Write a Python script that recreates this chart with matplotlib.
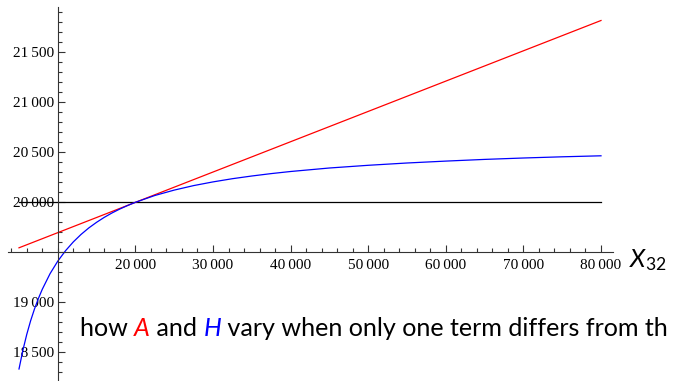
import matplotlib
matplotlib.use("Agg")
import matplotlib.pyplot as plt

# values
x_line = [5000, 80000]
a_vals = [19545, 21818]          # red, A
ref_level = 20000                # black horizontal line

x_h = [5000, 5500, 6000, 6500, 7000, 7500, 8000, 9000, 10000, 11000, 12000,
       13000, 14000, 15000, 16000, 17000, 18000, 19000, 20000, 22500, 25000,
       27500, 30000, 32500, 35000, 37500, 40000, 45000, 50000, 55000, 60000,
       65000, 70000, 75000, 80000]
h_vals = [18333, 18520, 18679, 18816, 18934, 19038, 19130, 19286, 19412, 19516,
          19604, 19679, 19744, 19800, 19850, 19894, 19933, 19968, 20000, 20068,
          20122, 20167, 20204, 20236, 20263, 20287, 20308, 20343, 20370, 20393,
          20412, 20429, 20443, 20455, 20465]   # blue, H

x_ticks = [20000, 30000, 40000, 50000, 60000, 70000, 80000]
y_ticks = [18500, 19000, 20000, 20500, 21000, 21500]


def fmt(v):
    s = str(v)
    return s[:-3] + "\u2009" + s[-3:]


fig = plt.figure(figsize=(6.82, 3.81), dpi=100)
ax = fig.add_axes([0, 0, 1, 1])
ax.set_xlim(2552, 90438)
ax.set_ylim(18213, 22023)

ax.plot(x_line, [ref_level, ref_level], color="black", lw=0.9)
ax.plot(x_line, a_vals, color=(1, 0, 0), lw=0.9)
ax.plot(x_h, h_vals, color=(0, 0, 1), lw=0.9)

for s in ["top", "right"]:
    ax.spines[s].set_visible(False)
ax.spines["left"].set_position(("data", 10000))
ax.spines["bottom"].set_position(("data", 19500))
ax.spines["left"].set_bounds(18213, 21953)
ax.spines["bottom"].set_bounds(3583, 81546)
for s in ["left", "bottom"]:
    ax.spines[s].set_linewidth(0.8)
    ax.spines[s].set_color("#333333")

ax.set_xticks(x_ticks)
ax.set_xticklabels([fmt(v) for v in x_ticks])
ax.set_xticks(list(range(4000, 80001, 2000)), minor=True)
ax.set_yticks(y_ticks + [19500])
ax.set_yticklabels([fmt(v) for v in y_ticks] + [""])
ax.set_yticks(list(range(18300, 21901, 100)), minor=True)

ax.tick_params(which="both", direction="in", color="#333333", width=0.8,
               labelsize=11, labelfontfamily="Liberation Serif")
ax.tick_params(which="major", length=5)
ax.tick_params(which="minor", length=3)
ax.tick_params(axis="x", pad=5)
ax.tick_params(axis="y", pad=3)

plt.rcParams["mathtext.fontset"] = "custom"
plt.rcParams["mathtext.rm"] = "Lato"
plt.rcParams["mathtext.it"] = "Lato:italic"
fig.text(0.923, 0.318, r"$X_{32}$", fontsize=18, family="Lato",
         va="center", ha="left")

# caption built from coloured pieces (the reference cuts it at the right edge)
pieces = [("how ", "black", "normal"), ("A", "red", "italic"),
          (" and ", "black", "normal"), ("H", "blue", "italic"),
          (" vary when only one term differs from th", "black", "normal")]
fig.canvas.draw()
renderer = fig.canvas.get_renderer()
xpos = 80
for txt, col, sty in pieces:
    t = fig.text(xpos / 682, 1 - 336 / 381, txt, color=col, style=sty,
                 fontsize=18.1, family="Lato", va="baseline", ha="left")
    bb = t.get_window_extent(renderer=renderer)
    xpos = bb.x1

fig.savefig("out.png", dpi=100)
